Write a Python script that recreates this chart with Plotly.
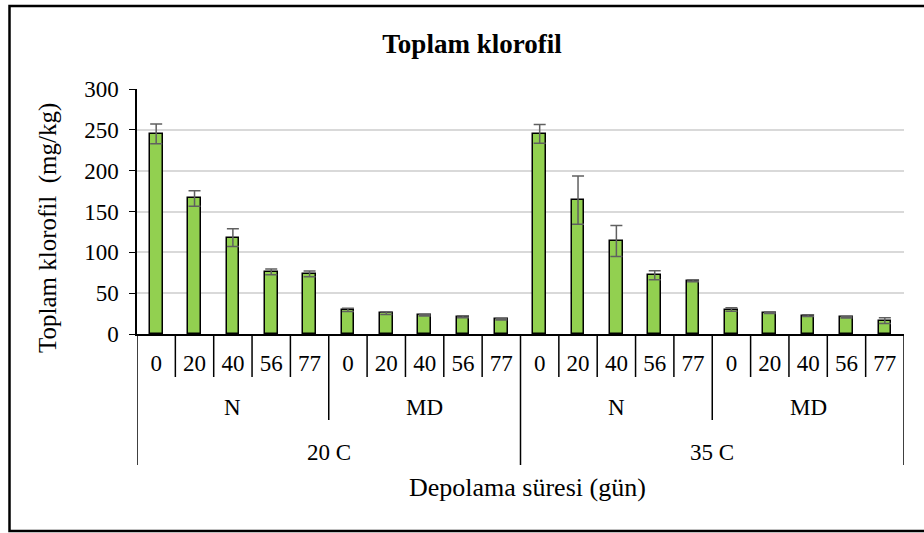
import plotly.graph_objects as go

# ---- data ----
days = ["0", "20", "40", "56", "77"] * 4
packaging = ["N", "MD", "N", "MD"]
temperatures = ["20 C", "35 C"]
values = [245, 166, 118, 76, 73.5, 29.5, 25.5, 23, 21, 18,
          245, 164, 114, 72, 65, 30, 26, 22.5, 20.5, 16.5]
errors = [12, 9.5, 11, 3.5, 3.5, 2, 1.5, 1, 1, 1,
          11.5, 29.5, 19, 5.5, 1, 2, 1, 1, 1, 3.5]

FONT = "Liberation Serif, Times New Roman, serif"
W, H = 924, 533
L, R, T, B = 137, 20, 89, 199
PW = W - L - R
PH = H - T - B

def py(pix):  # pixel y -> paper y
    return (H - B - pix) / PH

def px(pix):  # pixel x -> paper x
    return (pix - L) / PW

n = len(values)
xs = list(range(n))

fig = go.Figure()
fig.add_trace(go.Bar(
    x=xs, y=values, width=0.33,
    marker=dict(color="#92D050", line=dict(color="black", width=1.5)),
    error_y=dict(type="data", array=errors, visible=True,
                 color="#606060", thickness=1.5, width=6),
    showlegend=False,
))

shapes = []
# level-1 separators
for k in range(n + 1):
    xpos = k - 0.5
    if k % 10 == 0:
        bottom = py(465)
    elif k % 5 == 0:
        bottom = py(420)
    else:
        bottom = py(377)
    shapes.append(dict(type="line", xref="x", yref="paper",
                       x0=xpos, x1=xpos, y0=0, y1=bottom,
                       line=dict(color="black", width=1.5)))
# outer border
shapes.append(dict(type="rect", xref="paper", yref="paper",
                   x0=px(9.5), x1=px(930), y0=py(531), y1=py(6),
                   line=dict(color="black", width=2.5)))

annotations = []
for i, p in enumerate(packaging):
    annotations.append(dict(x=i * 5 + 2, y=py(407), xref="x", yref="paper",
                            text=p, showarrow=False, yanchor="middle",
                            font=dict(family=FONT, size=23, color="black")))
for i, t in enumerate(temperatures):
    annotations.append(dict(x=i * 10 + 4.5, y=py(452), xref="x", yref="paper",
                            text=t, showarrow=False, yanchor="middle",
                            font=dict(family=FONT, size=23, color="black")))
annotations.append(dict(x=px(527), y=py(487), xref="paper", yref="paper",
                        text="Depolama süresi (gün)", showarrow=False,
                        yanchor="middle", xanchor="center",
                        font=dict(family=FONT, size=26, color="black")))
annotations.append(dict(x=px(48), y=py(228), xref="paper", yref="paper",
                        text="Toplam klorofil  (mg/kg)", showarrow=False,
                        textangle=-90, yanchor="middle", xanchor="center",
                        font=dict(family=FONT, size=25, color="black")))

fig.update_layout(
    width=W, height=H,
    margin=dict(l=L, r=R, t=T, b=B),
    paper_bgcolor="white", plot_bgcolor="white",
    title=dict(text="<b>Toplam klorofil</b>", x=px(472), xanchor="center",
               xref="paper", y=1 - 44 / H, yanchor="middle",
               font=dict(family=FONT, size=27, color="black")),
    shapes=shapes, annotations=annotations,
    bargap=0,
)
fig.update_xaxes(range=[-0.5, n - 0.5], tickmode="array", tickvals=xs,
                 ticktext=days, showgrid=False, zeroline=False,
                 showline=True, linecolor="black", linewidth=1.5,
                 ticks="", ticklabelstandoff=8,
                 tickfont=dict(family=FONT, size=23, color="black"))
fig.update_yaxes(range=[0, 300], dtick=50, showgrid=True,
                 gridcolor="#D9D9D9", gridwidth=1.5, zeroline=False,
                 showline=True, linecolor="black", linewidth=1.5,
                 ticks="outside", ticklen=6, tickcolor="black",
                 ticklabelstandoff=6,
                 tickfont=dict(family=FONT, size=23, color="black"))

fig.write_html("out.html", config={"displayModeBar": False},
               post_script="document.body.style.margin='0';document.body.style.overflow='hidden';")
